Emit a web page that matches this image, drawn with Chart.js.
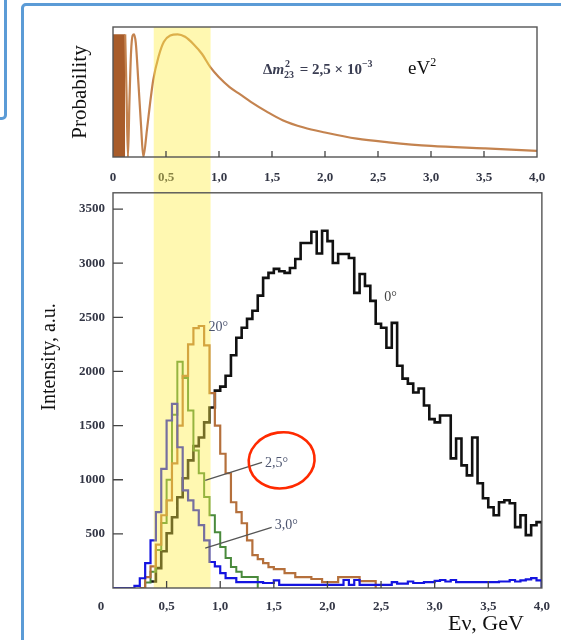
<!DOCTYPE html>
<html>
<head>
<meta charset="utf-8">
<script src="https://cdn.jsdelivr.net/npm/chart.js@4.4.0/dist/chart.umd.min.js"></script>
<style>
  html, body { margin:0; padding:0; background:#fff; overflow:hidden; }
  #page { position:relative; width:561px; height:640px; overflow:hidden; }
  .frame { position:absolute; border:3.5px solid #5b9bd6; border-radius:5px; box-sizing:border-box; }
  #topBox { position:absolute; left:0; top:0; width:561px; height:193px; }
  #botBox { position:absolute; left:0; top:177px; width:561px; height:463px; }
</style>
</head>
<body>
<div id="page">
  <div class="frame" style="left:-20px;top:-20px;width:27px;height:140px"></div>
  <div class="frame" style="left:21px;top:3px;width:620px;height:700px"></div>
  <div id="topBox"><canvas id="probChart"></canvas></div>
  <div id="botBox"><canvas id="fluxChart"></canvas></div>
</div>
<script>
// left edges of the 0.05 GeV energy bins
var BIN_EDGES = [0, 0.05, 0.1, 0.15, 0.2, 0.25, 0.3, 0.35, 0.4, 0.45,
  0.5, 0.55, 0.6, 0.65, 0.7, 0.75, 0.8, 0.85, 0.9, 0.95,
  1.0, 1.05, 1.1, 1.15, 1.2, 1.25, 1.3, 1.35, 1.4, 1.45,
  1.5, 1.55, 1.6, 1.65, 1.7, 1.75, 1.8, 1.85, 1.9, 1.95,
  2.0, 2.05, 2.1, 2.15, 2.2, 2.25, 2.3, 2.35, 2.4, 2.45,
  2.5, 2.55, 2.6, 2.65, 2.7, 2.75, 2.8, 2.85, 2.9, 2.95,
  3.0, 3.05, 3.1, 3.15, 3.2, 3.25, 3.3, 3.35, 3.4, 3.45,
  3.5, 3.55, 3.6, 3.65, 3.7, 3.75, 3.8, 3.85, 3.9, 3.95];
var E_MAX = 4.0;

// intensity per bin (null = no line drawn)
var flux0deg = [null, null, null, null, null, null, null, 60, 184, 340,
  506, 654, 838, 1013, 1179, 1310, 1390, 1530, 1667, 1823,
  1860, 1960, 2150, 2311, 2403, 2486, 2560, 2700, 2864, 2910,
  2947, 2925, 2910, 2956, 3039, 3186, 3186, 3290, 3090, 3300,
  3204, 3002, 3085, 3085, 3048, 2726, 2900, 2790, 2652, 2440,
  2403, 2219, 2449, 2053, 1934, 1888, 1805, 1842, 1685, 1560,
  1530, 1593, 1593, 1197, 1381, 1133, 1040, 1390, 967, 829,
  746, 672, 792, 810, 783, 562, 672, 488, 580, 608];

var flux20deg = [null, null, null, null, null, 0, 100, 200, 400, 672,
  810, 1151, 1500, 1960, 2250, 2400, 2420, 2240, 1800, 1500,
  1240, 1060, 792, 700, 598, 440, 304, 267, 230, 193,
  175, 175, 138, 138, 101, 101, 101, 83, 83, 55,
  55, 55, 101, 101, 101, 101, 64, 64, 64, null,
  null, null, null, null, null, null, null, null, null, null,
  null, null, null, null, null, null, null, null, null, null,
  null, null, null, null, null, null, null, null, null, null];

var flux25deg = [null, null, null, null, null, 0, 50, 150, 350, 600,
  1000, 1600, 2090, 1940, 1640, 1270, 1060, 840, 672, 516,
  378, 276, 193, 150, 101, 101, 101, null, null, null,
  null, null, null, null, null, null, null, null, null, null,
  null, null, null, null, null, null, null, null, null, null,
  null, null, null, null, null, null, null, null, null, null,
  null, null, null, null, null, null, null, null, null, null,
  null, null, null, null, null, null, null, null, null, null];

var flux30deg = [0, 0, 0, 0, 20, 90, 230, 440, 700, 1100,
  1547, 1700, 1300, 902, 810, 718, 580, 440, 240, 200,
  138, 92, 92, 55, 55, 55, 55, 55, 46, 46,
  70, 28, 28, 28, 28, 28, 28, 28, 28, 28,
  28, 28, 28, 74, 28, 74, 28, 28, 28, 28,
  28, 28, 55, 40, 40, 60, 46, 46, 55, 55,
  65, 74, 60, 74, 55, 55, 55, 55, 55, 55,
  55, 55, 60, 60, 74, 60, 70, 80, 92, 70];

// oscillation probability
var probEnergy = [0.115, 0.128, 0.141, 0.155, 0.17, 0.185, 0.198, 0.215, 0.24, 0.265,
  0.286, 0.32, 0.35, 0.38, 0.43, 0.48, 0.54, 0.61, 0.68, 0.76,
  0.84, 0.92, 1.0, 1.1, 1.2, 1.3, 1.45, 1.6, 1.8, 2.0,
  2.3, 2.6, 3.0, 3.5, 4.0];
var probValue = [1.0, 0.5, 0.0, 0.45, 0.85, 0.99, 1.0, 0.93, 0.6, 0.25,
  0.0, 0.22, 0.44, 0.63, 0.82, 0.94, 0.99, 1.0, 0.98, 0.92,
  0.84, 0.73, 0.65, 0.57, 0.51, 0.45, 0.37, 0.30, 0.24, 0.20,
  0.15, 0.12, 0.09, 0.07, 0.05];
var fastOscEnd = 0.115; // below this the oscillations merge into a solid block

var BAND = [0.38, 0.91];      // highlighted energy window, GeV
var X_TICKS = [0, 0.5, 1.0, 1.5, 2.0, 2.5, 3.0, 3.5, 4.0];
var Y_TICKS = [500, 1000, 1500, 2000, 2500, 3000, 3500];
var Y_MAX = 3650;

var LOWER_TOP = 177;  // page y where the lower canvas starts
var TICK_FONT = {family: 'Liberation Serif', size: 13, weight: 'bold'};
var TICK_COLOR = '#333645';
var BAND_COLOR = 'rgba(255, 238, 70, 0.42)';

function fmtComma(v) {
  return v === 0 ? '0' : v.toFixed(1).replace('.', ',');
}

function setTicks(list) {
  return function (s) { s.ticks = list.map(function (v) { return {value: v}; }); };
}

// histogram -> step points, closing each run down to zero
function toSteps(vals) {
  var pts = [];
  for (var i = 0; i < vals.length; i++) {
    if (vals[i] === null) { pts.push({x: BIN_EDGES[i], y: null}); continue; }
    pts.push({x: BIN_EDGES[i], y: vals[i]});
    var next = i + 1 < vals.length ? vals[i + 1] : null;
    if (next === null) {
      pts.push({x: i + 1 < vals.length ? BIN_EDGES[i + 1] : E_MAX, y: 0});
    }
  }
  return pts;
}

function stepSet(vals, color, width, order) {
  return {
    data: toSteps(vals), stepped: 'before', borderColor: color, borderWidth: width,
    pointRadius: 0, fill: false, order: order, borderJoinStyle: 'miter', spanGaps: false
  };
}

function drawBox(ctx, a) {
  ctx.save();
  ctx.strokeStyle = '#555';
  ctx.lineWidth = 1.4;
  ctx.strokeRect(a.left, a.top, a.right - a.left, a.bottom - a.top);
  ctx.restore();
}

/* ---------- bottom panel: intensity spectra ---------- */
var fluxChart = new Chart(document.getElementById('fluxChart'), {
  type: 'line',
  data: {
    datasets: [
      stepSet(flux30deg, '#1414e0', 2.2, 0),
      stepSet(flux20deg, '#b5703c', 2.2, 1),
      stepSet(flux25deg, '#4a8a3c', 2.0, 2),
      stepSet(flux0deg, '#111', 2.6, 3)
    ]
  },
  options: {
    responsive: true, maintainAspectRatio: false, animation: false, devicePixelRatio: 1,
    layout: {padding: {left: 0, right: 13, top: 0, bottom: 0}},
    plugins: {legend: {display: false}, tooltip: {enabled: false}},
    scales: {
      x: {
        type: 'linear', min: 0, max: E_MAX,
        grid: {display: false, drawTicks: false}, border: {display: false},
        afterBuildTicks: setTicks(X_TICKS),
        ticks: {autoSkip: false, maxRotation: 0,
          padding: 11, font: TICK_FONT, color: TICK_COLOR,
          callback: function (v) { return v === 0 ? '' : fmtComma(v); }},
        afterFit: function (s) { s.height = 52; }
      },
      y: {
        type: 'linear', min: 0, max: Y_MAX,
        grid: {display: false, drawTicks: false}, border: {display: false},
        afterBuildTicks: setTicks(Y_TICKS),
        ticks: {autoSkip: false, padding: 8, font: TICK_FONT, color: TICK_COLOR,
          callback: function (v) { return String(v); }},
        afterFit: function (s) { s.width = 113; }
      }
    }
  },
  plugins: [{
    id: 'fluxDecor',
    afterDatasetsDraw: function (chart) {
      var ctx = chart.ctx, a = chart.chartArea, x = chart.scales.x;
      var x0 = x.getPixelForValue(BAND[0]), x1 = x.getPixelForValue(BAND[1]);
      ctx.save();
      ctx.fillStyle = BAND_COLOR;
      // run up to the canvas top so the band joins the upper panel
      ctx.fillRect(x0, 0, x1 - x0, a.bottom);
      ctx.restore();
    },
    afterDraw: function (chart) {
      var ctx = chart.ctx, a = chart.chartArea, x = chart.scales.x, y = chart.scales.y;
      drawBox(ctx, a);
      ctx.save();
      ctx.strokeStyle = '#444';
      ctx.lineWidth = 1.3;
      ctx.beginPath();
      x.ticks.forEach(function (t) {
        if (t.value <= 0 || t.value >= E_MAX) return;
        var px = x.getPixelForValue(t.value);
        ctx.moveTo(px, a.bottom); ctx.lineTo(px, a.bottom - 7);
      });
      y.ticks.forEach(function (t) {
        var py = y.getPixelForValue(t.value);
        ctx.moveTo(a.left, py); ctx.lineTo(a.left + 10, py);
      });
      ctx.stroke();

      // corner zero label sits left of the axis
      ctx.font = 'bold 13px "Liberation Serif"';
      ctx.fillStyle = TICK_COLOR;
      ctx.textAlign = 'center';
      ctx.textBaseline = 'middle';
      ctx.fillText('0', x.getPixelForValue(0) - 12, a.bottom + 19);

      // leader lines
      ctx.strokeStyle = '#555';
      ctx.lineWidth = 1.3;
      ctx.beginPath();
      ctx.moveTo(x.getPixelForValue(0.86), y.getPixelForValue(995));
      ctx.lineTo(x.getPixelForValue(1.39), y.getPixelForValue(1160));
      ctx.moveTo(x.getPixelForValue(0.86), y.getPixelForValue(368));
      ctx.lineTo(x.getPixelForValue(1.48), y.getPixelForValue(560));
      ctx.stroke();

      // curve labels
      ctx.font = '14px "Liberation Serif"';
      ctx.textAlign = 'left';
      ctx.fillStyle = '#4d5570';
      ctx.fillText('20°', x.getPixelForValue(0.89), y.getPixelForValue(2403));
      ctx.fillText('2,5°', x.getPixelForValue(1.417), y.getPixelForValue(1151));
      ctx.fillText('3,0°', x.getPixelForValue(1.509), y.getPixelForValue(580));
      ctx.fillStyle = '#444';
      ctx.fillText('0°', x.getPixelForValue(2.53), y.getPixelForValue(2680));

      // hand-drawn red circle round the 2,5° label
      ctx.strokeStyle = '#ff2a00';
      ctx.lineWidth = 2.6;
      ctx.beginPath();
      ctx.ellipse(x.getPixelForValue(1.573), y.getPixelForValue(1179), 33, 28, -0.15, 0, Math.PI * 2);
      ctx.stroke();

      // axis titles
      ctx.fillStyle = '#111';
      ctx.font = '22px "Liberation Serif"';
      ctx.textAlign = 'right';
      ctx.textBaseline = 'alphabetic';
      ctx.fillText('E\u03bd, GeV', a.right - 18, a.bottom + 42);

      ctx.translate(50, a.bottom - 231);
      ctx.rotate(-Math.PI / 2);
      ctx.font = '20px "Liberation Serif"';
      ctx.textAlign = 'center';
      ctx.textBaseline = 'middle';
      ctx.fillText('Intensity, a.u.', 0, 0);
      ctx.restore();
    }
  }]
});

/* ---------- top panel: oscillation probability ---------- */
var probPoints = probEnergy.map(function (e, i) { return {x: e, y: probValue[i]}; });

new Chart(document.getElementById('probChart'), {
  type: 'line',
  data: {
    datasets: [
      {data: probPoints, borderColor: '#c4834f', borderWidth: 2.2, pointRadius: 0,
        cubicInterpolationMode: 'monotone', fill: false},
      {data: [{x: 0, y: 1}, {x: fastOscEnd, y: 1}], borderWidth: 0, pointRadius: 0,
        fill: 'origin', backgroundColor: '#a85c2a'}
    ]
  },
  options: {
    responsive: true, maintainAspectRatio: false, animation: false, devicePixelRatio: 1,
    layout: {padding: {left: 0, right: 24, top: 27, bottom: 0}},
    plugins: {legend: {display: false}, tooltip: {enabled: false}},
    scales: {
      x: {
        type: 'linear', min: 0, max: E_MAX,
        grid: {display: false, drawTicks: false}, border: {display: false},
        afterBuildTicks: setTicks(X_TICKS),
        ticks: {autoSkip: false, maxRotation: 0,
          padding: 13, font: TICK_FONT, color: TICK_COLOR, callback: fmtComma},
        afterFit: function (s) { s.height = 36; }
      },
      y: {
        min: 0, max: 1.06,
        grid: {display: false, drawTicks: false}, border: {display: false},
        ticks: {display: false},
        title: {display: true, text: 'Probability', color: '#111',
          font: {family: 'Liberation Serif', size: 21}, padding: {top: 68, bottom: 0}},
        afterFit: function (s) { s.width = 113; }
      }
    }
  },
  plugins: [{
    id: 'probDecor',
    afterDatasetsDraw: function (chart) {
      // same pixel window as the lower panel; stops where the lower canvas begins
      var ctx = chart.ctx, a = chart.chartArea, bx = fluxChart.scales.x;
      var x0 = bx.getPixelForValue(BAND[0]), x1 = bx.getPixelForValue(BAND[1]);
      ctx.save();
      ctx.fillStyle = BAND_COLOR;
      ctx.fillRect(x0, a.top, x1 - x0, LOWER_TOP - a.top);
      ctx.restore();
    },
    afterDraw: function (chart) {
      var ctx = chart.ctx, a = chart.chartArea, x = chart.scales.x, y = chart.scales.y;
      drawBox(ctx, a);
      ctx.save();
      ctx.strokeStyle = '#444';
      ctx.lineWidth = 1.3;
      ctx.beginPath();
      x.ticks.forEach(function (t) {
        if (t.value <= 0 || t.value >= E_MAX) return;
        var px = x.getPixelForValue(t.value);
        ctx.moveTo(px, a.bottom); ctx.lineTo(px, a.bottom - 6);
      });
      ctx.stroke();

      // Δm²23 = 2,5 × 10^-3 eV²
      var px = x.getPixelForValue(1.415), base = y.getPixelForValue(0.68);
      var startX = px;
      ctx.fillStyle = '#3a3d52';
      ctx.textBaseline = 'alphabetic';
      ctx.textAlign = 'left';
      function run(txt, font, dy) {
        ctx.font = font;
        ctx.fillText(txt, px, base + (dy || 0));
        px += ctx.measureText(txt).width;
      }
      run('\u0394', 'bold 15px "Liberation Serif"');
      run('m', 'bold italic 15px "Liberation Serif"');
      ctx.font = 'bold 10px "Liberation Serif"';
      ctx.fillText('2', px + 1, base - 7);
      ctx.fillText('23', px, base + 4);
      px += ctx.measureText('23').width + 2;
      run(' = 2,5 \u00d7 10', 'bold 15px "Liberation Serif"');
      run('\u22123', 'bold 10px "Liberation Serif"', -7);
      px = startX + 145;
      ctx.fillStyle = '#111';
      run('eV', '19px "Liberation Serif"');
      run('2', '12px "Liberation Serif"', -8);
      ctx.restore();
    }
  }]
});
</script>
</body>
</html>
